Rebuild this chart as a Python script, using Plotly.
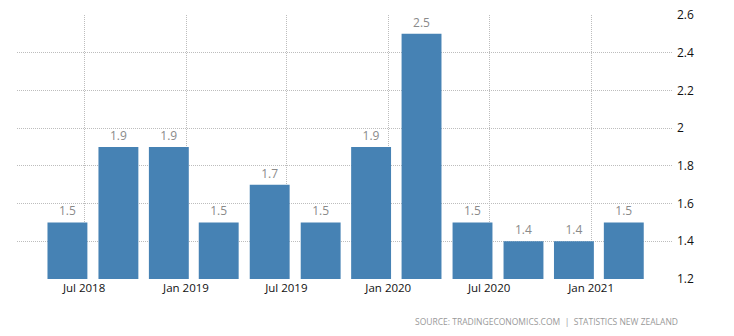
import plotly.graph_objects as go

dates = ["2018-06-01", "2018-09-01", "2018-12-01", "2019-03-01", "2019-06-01", "2019-09-01",
         "2019-12-01", "2020-03-01", "2020-06-01", "2020-09-01", "2020-12-01", "2021-03-01"]
values = [1.5, 1.9, 1.9, 1.5, 1.7, 1.5, 1.9, 2.5, 1.5, 1.4, 1.4, 1.5]
tick_dates = ["2018-07-01", "2019-01-01", "2019-07-01", "2020-01-01", "2020-07-01", "2021-01-01"]
tick_labels = ["Jul 2018", "Jan 2019", "Jul 2019", "Jan 2020", "Jul 2020", "Jan 2021"]
y_ticks = [1.2, 1.4, 1.6, 1.8, 2.0, 2.2, 2.4, 2.6]
y_tick_labels = ["1.2", "1.4", "1.6", "1.8", "2", "2.2", "2.4", "2.6"]

fig = go.Figure()
fig.add_trace(go.Bar(
    x=dates, y=values,
    width=72 * 86400000,
    marker=dict(color="#4682B4", line=dict(width=0)),
    text=[f"{v:g}" for v in values],
    textposition="outside",
    textfont=dict(color="#8a8a8a", size=12, family="Open Sans"),
    cliponaxis=False,
))

fig.update_layout(
    width=734, height=336,
    margin=dict(l=17, r=62, t=15, b=57),
    plot_bgcolor="white", paper_bgcolor="white",
    showlegend=False,
    font=dict(family="Open Sans", size=12, color="#222"),
    xaxis=dict(
        type="date",
        range=["2018-03-02", "2021-05-27"],
        tickvals=tick_dates, ticktext=tick_labels,
        showgrid=True, gridcolor="#bdbdbd", griddash="1px,1px", gridwidth=1,
        ticks="", showline=False, zeroline=False, automargin=False,
        tickfont=dict(size=11.5, color="#111"),
    ),
    yaxis=dict(
        side="right",
        range=[1.2, 2.6],
        tickvals=y_ticks, ticktext=y_tick_labels,
        showgrid=True, gridcolor="#bdbdbd", griddash="1px,1px", gridwidth=1,
        ticks="", showline=False, zeroline=False, automargin=False,
        tickfont=dict(size=12, color="#111"),
        ticklabelstandoff=4,
    ),
    annotations=[dict(
        text="SOURCE: TRADINGECONOMICS.COM  |  STATISTICS NEW ZEALAND",
        xref="paper", yref="paper", x=(680 - 17) / 655, y=0, yshift=-42,
        xanchor="right", yanchor="middle", showarrow=False,
        font=dict(size=8.5, color="#999999", family="Open Sans"),
    )],
)

fig.write_html("out.html")
